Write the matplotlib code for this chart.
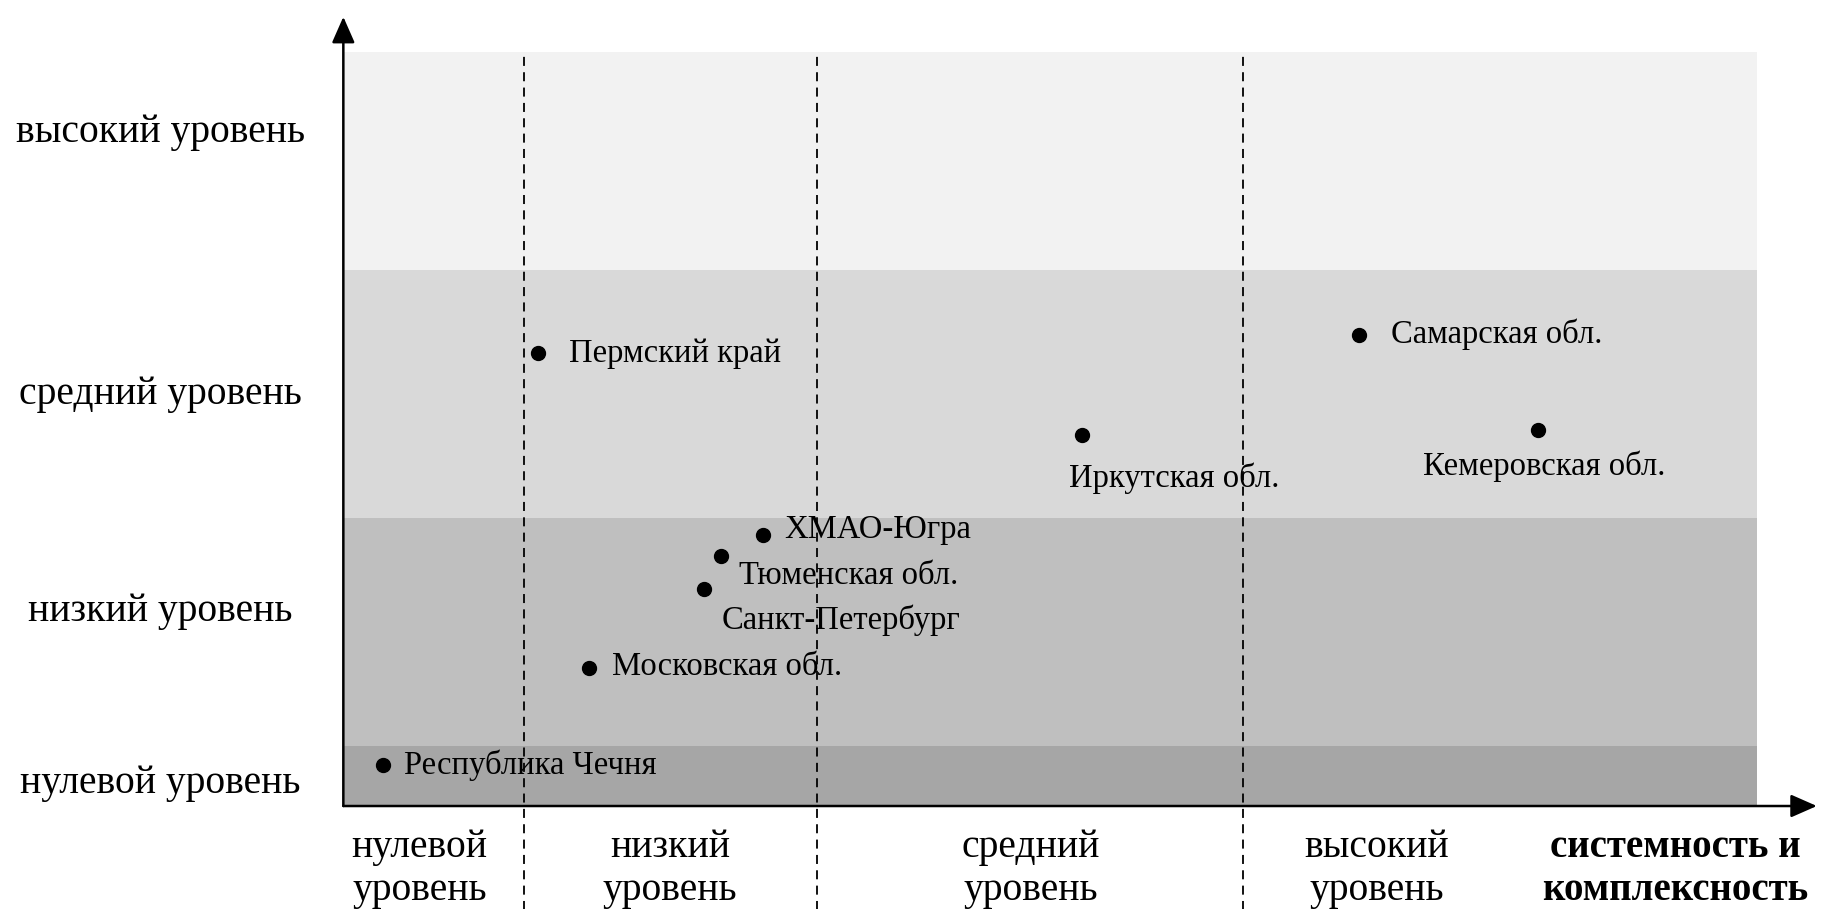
import matplotlib.pyplot as plt
from matplotlib.transforms import blended_transform_factory

plt.rcParams['font.family'] = ['Liberation Serif', 'DejaVu Serif']

# regions and their scores (x: systemness/complexity, y: level), 0..100 scale
regions = ['Республика Чечня', 'Московская обл.', 'Санкт-Петербург', 'Тюменская обл.',
           'ХМАО-Югра', 'Пермский край', 'Иркутская обл.', 'Самарская обл.',
           'Кемеровская обл.']
x_vals = [2.8, 17.4, 25.5, 26.7, 29.7, 13.8, 52.2, 71.8, 84.5]
y_vals = [5.4, 18.3, 28.7, 33.1, 35.9, 60.1, 49.2, 62.4, 49.8]

# horizontal bands (y levels)
band_edges = [0, 7.9, 38.2, 71.1, 100]
band_colors = ['#a6a6a6', '#bfbfbf', '#d9d9d9', '#f2f2f2']
y_level_names = ['нулевой уровень', 'низкий уровень', 'средний уровень', 'высокий уровень']

# vertical thresholds (x levels)
x_bounds = [12.8, 33.5, 63.6]
x_level_names = ['нулевой\nуровень', 'низкий\nуровень', 'средний\nуровень', 'высокий\nуровень']
x_axis_title = 'системность и\nкомплексность'

# label placement (offset in points, alignment)
label_pos = {
    'Республика Чечня': (15, 0, 'left'),
    'Московская обл.': (16, 1, 'left'),
    'Санкт-Петербург': (13, -22, 'left'),
    'Тюменская обл.': (13, -14, 'left'),
    'ХМАО-Югра': (15, 4, 'left'),
    'Пермский край': (22, -1, 'left'),
    'Иркутская обл.': (-9, -31, 'left'),
    'Самарская обл.': (23, 1, 'left'),
    'Кемеровская обл.': (4, -26, 'center'),
}

fig = plt.figure(figsize=(18.37, 9.09), dpi=100)
ax = fig.add_axes([0.1869, 0.1133, 0.7698, 0.83])
ax.set_xlim(0, 100)
ax.set_ylim(0, 100)
for s in ax.spines.values():
    s.set_visible(False)
ax.set_xticks([])
ax.set_yticks([])

for i, c in enumerate(band_colors):
    ax.axhspan(band_edges[i], band_edges[i + 1], color=c, lw=0, zorder=0)

xt = ax.get_xaxis_transform()
for xb in x_bounds:
    ax.plot([xb, xb], [-0.14, 1.0], transform=xt, color='black', lw=1.3,
            dashes=(5, 3.5), clip_on=False, zorder=5)

# axes arrows
arrow = dict(arrowstyle='-|>,head_length=0.5,head_width=0.22', color='black',
             lw=1.8, mutation_scale=32, shrinkA=0, shrinkB=0)
ax.annotate('', xy=(0, 1.046), xytext=(0, 0), xycoords='axes fraction',
            textcoords='axes fraction', arrowprops=arrow, zorder=6)
ax.annotate('', xy=(1.042, 0), xytext=(0, 0), xycoords='axes fraction',
            textcoords='axes fraction', arrowprops=arrow, zorder=6)

ax.plot(x_vals, y_vals, 'o', color='black', markersize=10, zorder=4, clip_on=False)
for name, x, y in zip(regions, x_vals, y_vals):
    dx, dy, ha = label_pos[name]
    ax.annotate(name, (x, y), xytext=(dx, dy), textcoords='offset points',
                ha=ha, va='center', fontsize=23.5, zorder=4)

# y level labels
ty = blended_transform_factory(fig.transFigure, ax.transData)
for name, yp in zip(y_level_names, [2.95, 25.8, 54.5, 89.3]):
    fig.text(0.0874, yp, name, transform=ty, ha='center', va='center', fontsize=28.5)

# x level labels
tx = blended_transform_factory(ax.transData, fig.transFigure)
for name, xp in zip(x_level_names, [5.4, 23.1, 48.6, 73.1]):
    fig.text(xp, 0.044, name, transform=tx, ha='center', va='center',
             fontsize=28.5, linespacing=1.2)
fig.text(94.2, 0.044, x_axis_title, transform=tx, ha='center', va='center',
         fontsize=28, fontweight='bold', linespacing=1.2)

fig.savefig('out.png', dpi=100)
